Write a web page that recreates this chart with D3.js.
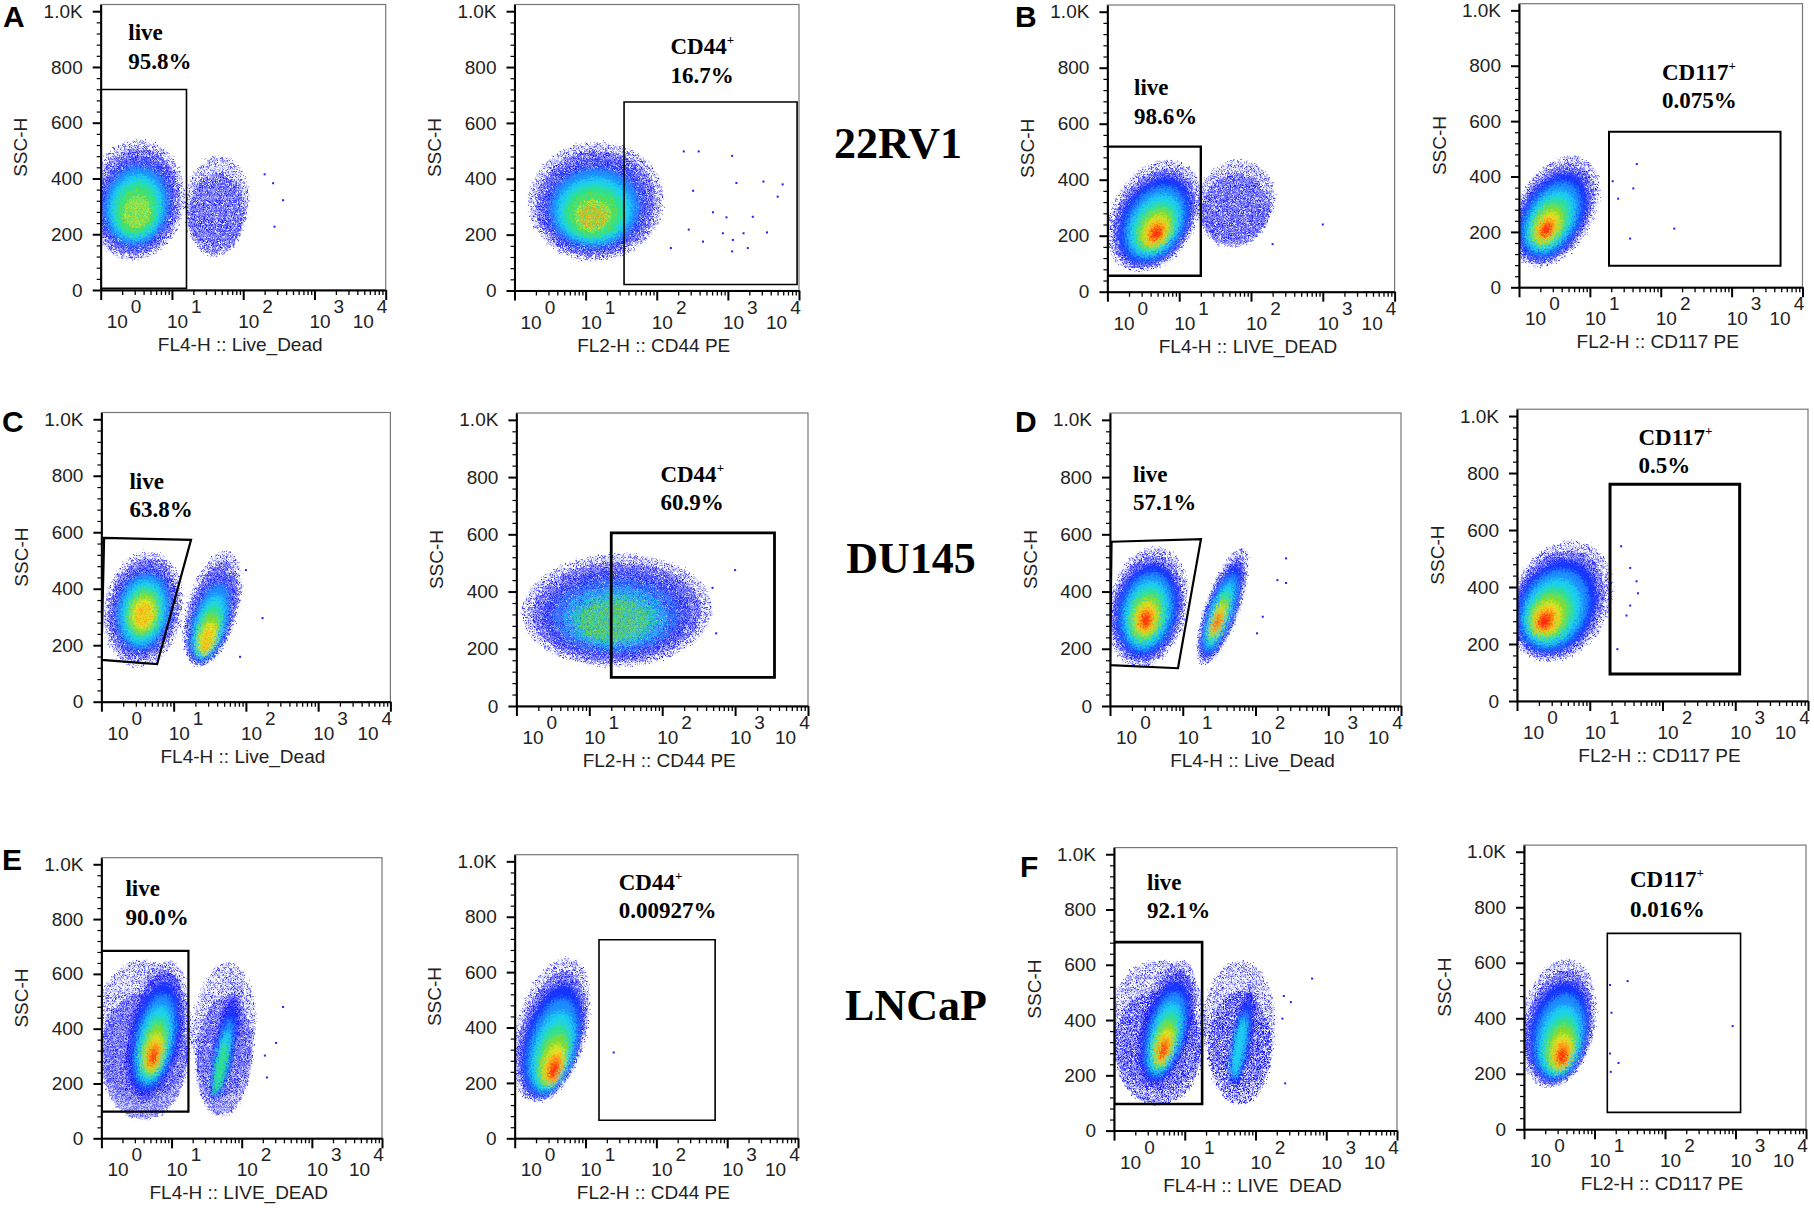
<!DOCTYPE html>
<html>
<head>
<meta charset="utf-8">
<script src="https://cdn.jsdelivr.net/npm/d3@7"></script>
<style>
  body { margin: 0; background: #fff; }
  svg { display: block; }
</style>
</head>
<body>
<svg id="fig"></svg>
<script>
var W = 1814, H = 1213;

// ---- data ----
var panels = ["A1", "A2", "B1", "B2", "C1", "C2", "D1", "D2", "E1", "E2", "F1", "F2"];
var letters = ["A", "B", "C", "D", "E", "F"];
var cellLines = ["22RV1", "DU145", "LNCaP"];

var xTitles = ["FL4-H :: Live_Dead", "FL2-H :: CD44 PE", "FL4-H :: LIVE_DEAD", "FL2-H :: CD117 PE",
               "FL4-H :: Live_Dead", "FL2-H :: CD44 PE", "FL4-H :: Live_Dead", "FL2-H :: CD117 PE",
               "FL4-H :: LIVE_DEAD", "FL2-H :: CD44 PE", "FL4-H :: LIVE  DEAD", "FL2-H :: CD117 PE"];
var yTitle = "SSC-H";

var gateNames = ["live", "CD44", "live", "CD117", "live", "CD44", "live", "CD117", "live", "CD44", "live", "CD117"];
var gatePlus  = [false, true, false, true, false, true, false, true, false, true, false, true];
var gatePcts  = ["95.8%", "16.7%", "98.6%", "0.075%", "63.8%", "60.9%", "57.1%", "0.5%", "90.0%", "0.00927%", "92.1%", "0.016%"];

// gate polygons, [FL value, SSC value]
var gates = [
  [[1, 6], [16, 6], [16, 719], [1, 719]],
  [[34.7, 21.5], [9400, 21.5], [9400, 675], [34.7, 675]],
  [[1, 57], [20, 57], [20, 518], [1, 518]],
  [[18.6, 78], [4900, 78], [4900, 562], [18.6, 562]],
  [[1.09, 580], [17.4, 573], [5.9, 133], [1, 148]],
  [[20, 100], [3470, 100], [3470, 605], [20, 605]],
  [[1.05, 574], [17.8, 583], [8.6, 132], [1, 143]],
  [[19, 95], [1150, 95], [1150, 761], [19, 761]],
  [[1, 97], [17.4, 97], [17.4, 684], [1, 684]],
  [[15.5, 65], [676, 65], [676, 717], [15.5, 717]],
  [[1, 96], [17.6, 96], [17.6, 682], [1, 682]],
  [[15.2, 61], [1180, 61], [1180, 706], [15.2, 706]]
];

// event clouds: FL at bottom / top of the cloud, spread factor, SSC range,
// densest spot, highest density level, levels [from, to) that are filled solid
var clouds = [
  [{xb: 2.8, xt: 3.5, w: 4.8, y0: 108, y1: 538, core: [3.2, 280], peak: 7, solid: [3, 6]},
   {xb: 40, xt: 46, w: 2.8, y0: 150, y1: 480, core: [42, 270], peak: 1}],
  [{xb: 13, xt: 15, w: 8.9, y0: 107, y1: 531, core: [12.6, 264], peak: 8, solid: [3, 6]}],
  [{xb: 2.8, xt: 7.1, w: 4.2, y0: 70, y1: 470, core: [4.8, 208], peak: 9},
   {xb: 55, xt: 68, w: 3.5, y0: 180, y1: 470, core: [60, 290], peak: 1}],
  [{xb: 1.86, xt: 5.6, w: 3.8, y0: 75, y1: 475, core: [2.4, 207], peak: 9}],
  [{xb: 3.2, xt: 4.5, w: 3.5, y0: 124, y1: 531, core: [3.8, 310], peak: 8, solid: [3, 8]},
   {xb: 22.4, xt: 52.5, w: 2.3, y0: 124, y1: 531, core: [29, 218], peak: 8, solid: [3, 8]}],
  [{xb: 22, xt: 26, w: 20, y0: 137, y1: 530, core: [22, 300], peak: 6, solid: [7, 7]}],
  [{xb: 2.6, xt: 4.2, w: 3.5, y0: 137, y1: 556, core: [3.1, 300], peak: 9},
   {xb: 19.5, xt: 64.6, w: 1.75, y0: 143, y1: 552, core: [29.5, 290], peak: 9}],
  [{xb: 2.8, xt: 5.6, w: 5, y0: 138, y1: 560, core: [2.4, 280], peak: 9}],
  [{xb: 4, xt: 4, w: 5, y0: 130, y1: 650, core: [4, 300], peak: 1},
   {xb: 4, xt: 8.9, w: 2.6, y0: 140, y1: 650, core: [5.5, 298], peak: 9},
   {xb: 50, xt: 63, w: 2.8, y0: 150, y1: 640, core: [56, 300], peak: 1},
   {xb: 40.7, xt: 87, w: 1.45, y0: 140, y1: 566, core: [50, 260], peak: 5}],
  [{xb: 2, xt: 5.4, w: 3.2, y0: 130, y1: 650, core: [3.6, 245], peak: 9}],
  [{xb: 4.2, xt: 4.2, w: 5, y0: 150, y1: 615, core: [4.2, 300], peak: 1},
   {xb: 3.5, xt: 8.9, w: 2.4, y0: 155, y1: 617, core: [5, 290], peak: 9},
   {xb: 60, xt: 60, w: 3.2, y0: 160, y1: 615, core: [60, 300], peak: 1},
   {xb: 50, xt: 89, w: 1.4, y0: 155, y1: 530, core: [58, 300], peak: 4}],
  [{xb: 2.3, xt: 4, w: 3.4, y0: 152, y1: 613, core: [3.5, 262], peak: 9}]
];

// single stray events
var outliers = [
  [[363, 322], [263, 383], [275, 227], [200, 415]],
  [[240, 498], [389, 498], [1148, 482], [3162, 390], [5888, 380], [5012, 336], [1318, 385], [2239, 264],
   [955, 262], [617, 280], [447, 175], [851, 205], [1175, 181], [1660, 205], [3548, 208], [1905, 152],
   [1148, 140], [158, 152], [282, 218], [324, 357]],
  [[1000, 240], [200, 170]],
  [[46, 445], [41, 357], [155, 212], [37, 176], [21, 383], [25, 320]],
  [[170, 296], [83, 159], [100, 466]],
  [[1000, 475], [550, 254], [490, 413]],
  [[263, 516], [200, 440], [126, 312], [105, 254], [263, 430]],
  [[27, 543], [36, 467], [44, 420], [46, 378], [32, 300], [24, 182], [36, 335]],
  [[389, 479], [309, 348], [229, 222], [214, 302]],
  [[25, 310]],
  [[631, 550], [263, 171], [251, 487], [316, 465], [240, 405], [158, 233]],
  [[29.5, 534], [16.6, 520], [17.4, 420], [16.6, 273], [21.9, 239], [17, 207], [912, 372]]
];

var yTicks = [0, 200, 400, 600, 800, 1000];
var yTickLabels = ["0", "200", "400", "600", "800", "1.0K"];
var decades = [1, 10, 100, 1000, 10000];
var decadeExp = ["0", "1", "2", "3", "4"];

// ---- layout (pixels) ----
// [x of 10^0, x of 10^4, y of 0, y of 1024]
var frames = [
  [100.7, 385.7, 290, 4.5], [514.5, 799, 290.5, 4.5], [1107.4, 1394.6, 291.7, 5], [1519, 1802.5, 287.3, 3.7],
  [101.4, 390.4, 701.7, 412.5], [516.4, 808, 706, 413], [1110, 1401, 706, 413], [1517, 1808, 701, 409.2],
  [101.4, 382, 1138.3, 857.7], [514.7, 798, 1138.3, 854.7], [1114, 1397, 1130.6, 847.6], [1524, 1806, 1129.3, 845.1]
];
// gate label: dx from left, baselines from top
var labelPos = [
  [27.6, 35.5, 64], [156, 49.5, 78], [26.6, 90, 119], [143, 76.3, 104.6],
  [28, 76.8, 104.8], [144, 69, 97], [23, 68.7, 97], [121.5, 35.8, 63.5],
  [24, 38.3, 67.3], [104, 35.3, 63.3], [33, 42.4, 70.4], [106, 42.2, 71.6]
];
var gateStroke = [1.6, 1.6, 2.4, 2, 2.2, 2.8, 2.2, 3, 2.2, 1.6, 2.6, 1.6];
var letterPos = [[3, 27], [1015, 27], [2, 432], [1015, 432], [2, 870], [1020, 877]];
var cellPos = [[898, 158], [911, 573], [916, 1020]];

var sans = "'Liberation Sans', Arial, sans-serif";
var serif = "'Liberation Serif', 'Times New Roman', serif";

// pseudocolour density levels, outside to inside
var levelScale = [1, 0.89, 0.78, 0.66, 0.55, 0.45, 0.36, 0.27, 0.2, 0.13];
var levelColor = ["#0a0aff", "#0a0aff", "#1530ff", "#1c8cff", "#1fcfef", "#2fe08e", "#7cdc2a", "#e4e428", "#ff9a14", "#ff2a0a"];
var patShift = [[0, 0], [1.1, 2.3], [2.7, 0.9], [0.6, 1.7], [3.1, 3.0], [1.9, 0.2], [0.2, 3.3], [2.4, 2.6], [1.4, 1.1], [3.3, 1.5]];

var svg = d3.select("#fig").attr("width", W).attr("height", H);
var defs = svg.append("defs");

// dotted fills for the sparse levels
function dotPattern(id, size, dots, color, sh) {
  var p = defs.append("pattern").attr("id", id)
      .attr("patternUnits", "userSpaceOnUse")
      .attr("patternTransform", "translate(" + sh[0] + "," + sh[1] + ")")
      .attr("width", size).attr("height", size);
  dots.forEach(function(d) {
    p.append("rect").attr("x", d[0]).attr("y", d[1])
        .attr("width", 1.6).attr("height", 1.6).attr("fill", color);
  });
}
var sparseDots = [[0.4, 0.6], [3.3, 2.2], [1.6, 4.1], [4.6, 4.8]];
var denseDots = [[0.3, 0.4], [2.6, 1.4], [0.9, 2.9], [3.4, 3.6]];
levelColor.forEach(function(c, k) {
  if (k === 0) dotPattern("pat0", 6.5, sparseDots, c, patShift[k]);
  else dotPattern("pat" + k, 5, denseDots, c, patShift[k]);
});

function grainFilter(id, blur, freq, scale, seed) {
  var f = defs.append("filter").attr("id", id)
      .attr("x", "-10%").attr("y", "-10%").attr("width", "120%").attr("height", "120%");
  var src = "SourceGraphic";
  if (blur) {
    f.append("feGaussianBlur").attr("in", src).attr("stdDeviation", blur).attr("result", "soft");
    src = "soft";
  }
  f.append("feTurbulence").attr("type", "fractalNoise").attr("baseFrequency", freq)
      .attr("numOctaves", 2).attr("seed", seed).attr("result", "noise");
  f.append("feDisplacementMap").attr("in", src).attr("in2", "noise")
      .attr("scale", scale).attr("xChannelSelector", "R").attr("yChannelSelector", "G");
}
grainFilter("grain", 0, 0.45, 9, 7);
grainFilter("soft", 2.2, 0.55, 11, 3);
grainFilter("grain2", 0, 0.5, 10, 11);

function drawCloud(groups, c, x, y) {
  var xm = Math.sqrt(c.xb * c.xt);
  var pb = x(c.xb), pt = x(c.xt);
  var cx = (pb + pt) / 2, cy = (y(c.y0) + y(c.y1)) / 2;
  var ry = (y(c.y0) - y(c.y1)) / 2;
  var rx = x(xm * c.w) - x(xm);
  var skew = Math.atan(-(pt - pb) / (2 * ry)) * 180 / Math.PI;
  var kx = x(c.core[0]) - cx, ky = y(c.core[1]) - cy;
  var sMin = levelScale[c.peak];
  var solid = c.solid || [2, 10];
  d3.range(c.peak + 1).forEach(function(k) {
    var s = levelScale[k];
    var t = c.peak ? (1 - s) / (1 - sMin) : 0;
    var isSolid = k >= solid[0] && k < solid[1];
    var grp = isSolid ? groups.solid : (k < solid[0] ? groups.under : groups.over);
    grp.append("ellipse")
        .attr("transform", "translate(" + (cx + kx * t) + "," + (cy + ky * t) + ") skewX(" + skew + ")")
        .attr("rx", rx * s).attr("ry", ry * s)
        .attr("fill", isSolid ? levelColor[k] : "url(#pat" + k + ")");
  });
}

panels.forEach(function(id, i) {
  var f = frames[i];
  var x = d3.scaleLog().domain([1, 1e4]).range([f[0], f[1]]);
  var y = d3.scaleLinear().domain([0, 1024]).range([f[2], f[3]]);
  var g = svg.append("g").attr("class", "panel " + id);

  defs.append("clipPath").attr("id", "clip" + i).append("rect")
      .attr("x", x(1)).attr("y", y(1024))
      .attr("width", x(1e4) - x(1)).attr("height", y(0) - y(1024));

  g.append("rect")
      .attr("x", x(1)).attr("y", y(1024))
      .attr("width", x(1e4) - x(1)).attr("height", y(0) - y(1024))
      .attr("fill", "#fff").attr("stroke", "#777").attr("stroke-width", 1.2);

  var plot = g.append("g").attr("clip-path", "url(#clip" + i + ")");
  var groups = {
    under: plot.append("g").attr("filter", "url(#grain)"),
    solid: plot.append("g").attr("filter", "url(#soft)"),
    over: plot.append("g").attr("filter", "url(#grain2)")
  };
  clouds[i].forEach(function(c) { drawCloud(groups, c, x, y); });

  plot.selectAll("rect.ev").data(outliers[i]).enter().append("rect")
      .attr("class", "ev")
      .attr("x", function(d) { return x(d[0]) - 1; })
      .attr("y", function(d) { return y(d[1]) - 1; })
      .attr("width", 2).attr("height", 2).attr("fill", "#2020ff");

  var line = d3.line().x(function(d) { return x(d[0]); }).y(function(d) { return y(d[1]); });
  plot.append("path").attr("d", line(gates[i]) + "Z")
      .attr("fill", "none").attr("stroke", "#000").attr("stroke-width", gateStroke[i])
      .attr("stroke-linejoin", "miter");

  // y axis
  var minorY = d3.range(0, 1025, 40).filter(function(v) { return v % 200 !== 0; });
  g.append("g").attr("transform", "translate(" + f[0] + ",0)")
      .call(d3.axisLeft(y).tickValues(minorY).tickFormat("").tickSize(4).tickSizeOuter(0))
      .call(function(a) { a.select(".domain").remove(); a.selectAll("line").attr("stroke", "#000").attr("stroke-width", 1.2); });
  var ay = g.append("g").attr("transform", "translate(" + f[0] + ",0)")
      .call(d3.axisLeft(y).tickValues(yTicks).tickFormat(function(d, j) { return yTickLabels[j]; })
          .tickSize(8).tickSizeOuter(0).tickPadding(10));
  ay.attr("font-family", sans).attr("font-size", 19);
  ay.select(".domain").attr("stroke", "#000").attr("stroke-width", 2);
  ay.selectAll(".tick line").attr("stroke", "#000").attr("stroke-width", 2);
  ay.selectAll(".tick text").attr("fill", "#222");

  // x axis
  var minorX = [];
  decades.slice(0, 4).forEach(function(dv) { d3.range(2, 10).forEach(function(m) { minorX.push(dv * m); }); });
  g.append("g").attr("transform", "translate(0," + f[2] + ")")
      .call(d3.axisBottom(x).tickValues(minorX).tickFormat("").tickSize(5).tickSizeOuter(0))
      .call(function(a) { a.select(".domain").remove(); a.selectAll("line").attr("stroke", "#000").attr("stroke-width", 1.3); });
  var ax = g.append("g").attr("transform", "translate(0," + f[2] + ")")
      .call(d3.axisBottom(x).tickValues(decades).tickFormat("").tickSize(10).tickSizeOuter(0));
  ax.select(".domain").attr("stroke", "#000").attr("stroke-width", 2);
  ax.selectAll(".tick line").attr("stroke", "#000").attr("stroke-width", 2);

  var shift = [6, -5, -5, -5, -33];
  decades.forEach(function(dv, k) {
    var t = g.append("text")
        .attr("x", x(dv) + shift[k]).attr("y", f[2] + 38)
        .attr("font-family", sans).attr("font-size", 19).attr("fill", "#222")
        .text("10");
    t.append("tspan").attr("dx", 3).attr("dy", -15).text(decadeExp[k]);
  });

  g.append("text")
      .attr("x", (f[0] + f[1]) / 2 - 3).attr("y", f[2] + 61)
      .attr("text-anchor", "middle").attr("font-family", sans).attr("font-size", 19)
      .attr("fill", "#222").attr("xml:space", "preserve")
      .text(xTitles[i]);

  g.append("text")
      .attr("transform", "translate(" + (f[0] - 80) + "," + ((f[2] + f[3]) / 2) + ") rotate(-90)")
      .attr("text-anchor", "middle").attr("dominant-baseline", "central")
      .attr("font-family", sans).attr("font-size", 19).attr("fill", "#222")
      .text(yTitle);

  // gate label
  var lp = labelPos[i];
  var t1 = g.append("text")
      .attr("x", f[0] + lp[0]).attr("y", f[3] + lp[1])
      .attr("font-family", serif).attr("font-weight", "bold").attr("font-size", 23)
      .text(gateNames[i]);
  if (gatePlus[i]) t1.append("tspan").attr("font-size", 13).attr("dy", -10).text("+");
  g.append("text")
      .attr("x", f[0] + lp[0]).attr("y", f[3] + lp[2])
      .attr("font-family", serif).attr("font-weight", "bold").attr("font-size", 23)
      .text(gatePcts[i]);
});

svg.selectAll("text.letter").data(letters).enter().append("text")
    .attr("class", "letter")
    .attr("x", function(d, i) { return letterPos[i][0]; })
    .attr("y", function(d, i) { return letterPos[i][1]; })
    .attr("font-family", sans).attr("font-weight", "bold").attr("font-size", 30)
    .text(function(d) { return d; });

svg.selectAll("text.cell").data(cellLines).enter().append("text")
    .attr("class", "cell")
    .attr("x", function(d, i) { return cellPos[i][0]; })
    .attr("y", function(d, i) { return cellPos[i][1]; })
    .attr("text-anchor", "middle")
    .attr("font-family", serif).attr("font-weight", "bold").attr("font-size", 44)
    .text(function(d) { return d; });
</script>
</body>
</html>
